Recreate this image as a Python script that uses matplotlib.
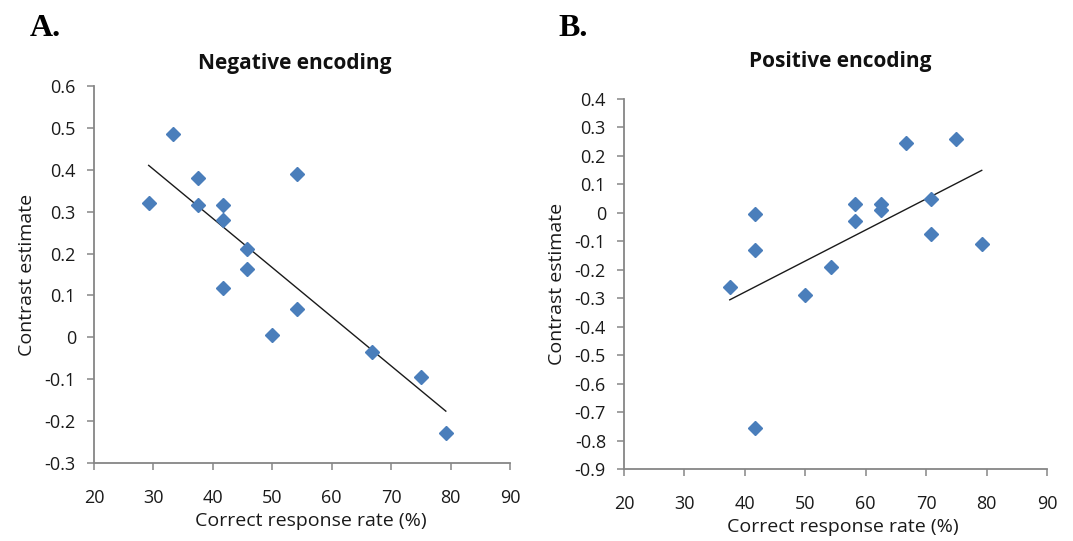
import numpy as np
import matplotlib
matplotlib.use("Agg")
import matplotlib.pyplot as plt

plt.rcParams['font.family'] = ['Open Sans', 'DejaVu Sans']

# Panel A: Negative encoding
neg_x = [29.2, 33.3, 37.5, 37.5, 41.7, 41.7, 41.7, 45.8, 45.8, 50.0, 54.2, 54.2, 66.7, 75.0, 79.2]
neg_y = [0.32, 0.485, 0.38, 0.315, 0.315, 0.28, 0.118, 0.21, 0.163, 0.005, 0.39, 0.067, -0.035, -0.095, -0.228]

# Panel B: Positive encoding
pos_x = [37.5, 41.7, 41.7, 41.7, 50.0, 54.2, 58.3, 58.3, 62.5, 62.5, 66.7, 70.8, 70.8, 75.0, 79.2]
pos_y = [-0.26, -0.005, -0.13, -0.755, -0.29, -0.19, 0.03, -0.03, 0.03, 0.01, 0.245, 0.05, -0.075, 0.26, -0.11]

neg_yticks = [0.6, 0.5, 0.4, 0.3, 0.2, 0.1, 0, -0.1, -0.2, -0.3]
pos_yticks = [0.4, 0.3, 0.2, 0.1, 0, -0.1, -0.2, -0.3, -0.4, -0.5, -0.6, -0.7, -0.8, -0.9]
xticks = [20, 30, 40, 50, 60, 70, 80, 90]

W, H = 1073, 541
fig = plt.figure(figsize=(W/100, H/100), dpi=100)

def box(l, r, t, b):
    return [l/W, 1-b/H, (r-l)/W, (b-t)/H]

axA = fig.add_axes(box(94, 510, 86, 463))
axB = fig.add_axes(box(624, 1047, 99, 469))

blue = '#4a7ebb'
axis_gray = '#868686'
txt = '#1a1a1a'

def style(ax, x, y, yticks, ylim, title, tpad, xlab_x, title_x):
    ax.plot(x, y, linestyle='none', marker='D', ms=7.4, color=blue, mec=blue, zorder=3)
    coef = np.polyfit(x, y, 1)
    xs = np.array([min(x), max(x)])
    ax.plot(xs, np.polyval(coef, xs), color='#1a1a1a', lw=1.0, zorder=2)
    ax.set_xlim(20, 90)
    ax.set_ylim(*ylim)
    ax.set_xticks(xticks)
    ax.set_yticks(yticks)
    ax.set_yticklabels([('%g' % v) for v in yticks])
    for s in ['top', 'right']:
        ax.spines[s].set_visible(False)
    for s in ['left', 'bottom']:
        ax.spines[s].set_color(axis_gray)
        ax.spines[s].set_linewidth(1.3)
    ax.tick_params(axis='both', direction='out', length=5, width=1.1, color=axis_gray,
                   labelsize=13, labelcolor=txt)
    ax.tick_params(axis='x', pad=14)
    ax.tick_params(axis='y', pad=8)
    ax.set_xlabel('Correct response rate (%)', fontsize=14, color=txt, labelpad=3)
    ax.xaxis.label.set_x(xlab_x)
    ax.set_ylabel('Contrast estimate', fontsize=14, color=txt, labelpad=6)
    t = ax.set_title(title, fontsize=15, fontweight='bold', pad=tpad, color='#111111')
    t.set_x(title_x)

style(axA, neg_x, neg_y, neg_yticks, (-0.3, 0.6), 'Negative encoding', 12, 0.52, 0.483)
style(axB, pos_x, pos_y, pos_yticks, (-0.9, 0.4), 'Positive encoding', 23, 0.518, 0.511)

fig.text(30/W, 1-29/H, 'A.', fontsize=23, fontweight='bold', family='Liberation Serif', va='center', ha='left')
fig.text(558/W, 1-29/H, 'B.', fontsize=23, fontweight='bold', family='Liberation Serif', va='center', ha='left')

fig.savefig('out.png', dpi=100, facecolor='white')
